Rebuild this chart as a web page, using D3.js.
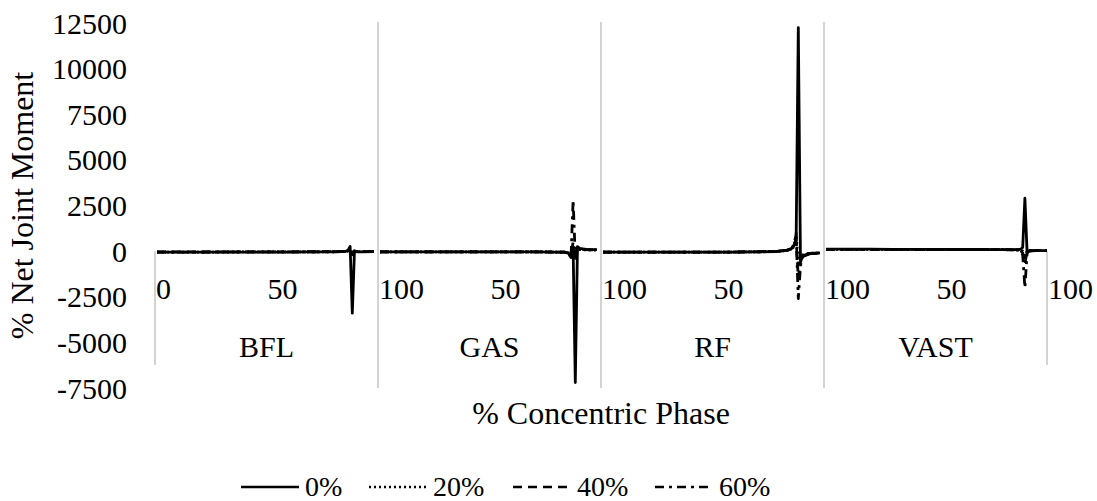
<!DOCTYPE html>
<html>
<head>
<meta charset="utf-8">
<script src="https://cdn.jsdelivr.net/npm/d3@7/dist/d3.min.js"></script>
<style>
    body { margin: 0; background: #fff; }
</style>
</head>
<body>
<svg id="chart" width="1097" height="501"></svg>
<script>
var groups = ['BFL', 'GAS', 'RF', 'VAST'];
var seriesNames = ['0%', '20%', '40%', '60%'];
var yTicks = [-7500, -5000, -2500, 0, 2500, 5000, 7500, 10000, 12500];
var xTickValues = [0, 50, 100, 150, 200, 250, 300, 350, 400];
var xTickLabels = ['0', '50', '100', '50', '100', '50', '100', '50', '100'];

// % concentric phase sampled in each muscle panel
var phase = [0, 10, 20, 30, 40, 50, 60, 70, 80, 85, 87, 88, 89, 90, 91, 92, 95, 100];

var bfl0  = [-60, -60, -55, -55, -50, -50, -50, -45, -40, -30, -10, 40, 250, -3400, 20, -40, -40, -30];
var bfl20 = [-50, -50, -50, -50, -45, -45, -45, -40, -35, -30, -20, 0, 60, -150, -20, -30, -30, -30];
var bfl40 = [-40, -40, -40, -40, -40, -40, -40, -35, -30, -25, -15, 10, 80, -100, -10, -30, -30, -20];
var bfl60 = [-50, -50, -50, -45, -45, -45, -45, -40, -35, -30, -15, 20, 120, -200, -20, -30, -25, -20];

var gas0  = [-40, -40, -40, -40, -40, -40, -40, -40, -50, -60, -120, -350, 100, -7200, 250, 150, 100, 80];
var gas20 = [-40, -40, -40, -40, -40, -40, -40, -40, -50, -60, -100, -150, 300, -300, 100, 80, 70, 60];
var gas40 = [-40, -40, -40, -40, -40, -40, -40, -40, -50, -60, -100, -200, 500, -500, 150, 100, 80, 60];
var gas60 = [-40, -40, -40, -40, -40, -40, -40, -40, -50, -60, -100, -400, 2800, -400, 200, 100, 80, 60];

var rf0  = [-60, -60, -60, -55, -55, -50, -50, -40, -20, 60, 150, 300, 600, 12250, -500, -250, -150, -100];
var rf20 = [-60, -60, -60, -55, -55, -50, -50, -40, -20, 50, 120, 250, 1000, -800, -400, -200, -120, -100];
var rf40 = [-60, -60, -60, -55, -55, -50, -50, -40, -20, 50, 120, 250, 700, -1500, -600, -250, -120, -100];
var rf60 = [-60, -60, -60, -55, -55, -50, -50, -40, -20, 50, 150, 400, 900, -2600, -800, -300, -150, -100];

var vast0  = [110, 110, 110, 100, 100, 100, 90, 90, 80, 80, 90, 100, 200, 2900, -100, 20, 30, 30];
var vast20 = [100, 100, 100, 100, 90, 90, 90, 80, 80, 70, 60, 40, 0, -400, 0, 20, 30, 30];
var vast40 = [100, 100, 100, 100, 90, 90, 90, 80, 80, 70, 60, 40, -100, -700, 0, 20, 30, 30];
var vast60 = [100, 100, 100, 100, 90, 90, 90, 80, 80, 70, 60, 50, -200, -2000, -100, 20, 30, 30];

var panelValues = {
    BFL: [bfl0, bfl20, bfl40, bfl60],
    GAS: [gas0, gas20, gas40, gas60],
    RF: [rf0, rf20, rf40, rf60],
    VAST: [vast0, vast20, vast40, vast60]
};

var dashes = ['none', '2,3', '9,6', '9,5,3,5'];

(function draw() {
    var svg = d3.select('#chart')
        .attr('font-family', "'Liberation Serif', 'Times New Roman', Times, 'DejaVu Serif', serif");
    var plotLeft = 155, plotRight = 1047, plotTop = 23, plotBottom = 388;
    var groupBottom = 365;
    var fontSize = '30px', titleSize = '32px';

    var y = d3.scaleLinear().domain([-7500, 12500]).range([plotBottom, plotTop]);
    var band = d3.scaleBand().domain(groups).range([plotLeft, plotRight]);
    var xAll = d3.scaleLinear().domain([0, 400]).range([plotLeft, plotRight]);

    // group separators
    groups.forEach(function(g, i) {
        if (i == 0) return;
        svg.append('line')
            .attr('x1', band(g)).attr('x2', band(g))
            .attr('y1', plotTop - 1).attr('y2', plotBottom)
            .style('stroke', '#c4c4c4').style('stroke-width', 1.5);
    });
    [plotLeft, plotRight].forEach(function(x) {
        svg.append('line')
            .attr('x1', x).attr('x2', x)
            .attr('y1', y(0)).attr('y2', groupBottom)
            .style('stroke', '#c4c4c4').style('stroke-width', 1.5);
    });

    // y tick labels
    svg.append('g').selectAll('text').data(yTicks).enter().append('text')
        .attr('x', 127).attr('y', function(d) { return y(d); })
        .attr('dy', '0.35em')
        .attr('text-anchor', 'end')
        .style('font-size', fontSize)
        .text(function(d) { return d; });

    // x tick labels
    svg.append('g').selectAll('text').data(xTickValues).enter().append('text')
        .attr('x', function(d) { return xAll(d) + 1; })
        .attr('y', 299)
        .style('font-size', fontSize)
        .text(function(d, i) { return xTickLabels[i]; });

    // group labels
    svg.append('g').selectAll('text').data(groups).enter().append('text')
        .attr('x', function(d) { return band(d) + band.bandwidth() / 2; })
        .attr('y', 357)
        .attr('text-anchor', 'middle')
        .style('font-size', fontSize)
        .text(function(d) { return d; });

    // lines
    groups.forEach(function(g, gi) {
        var x0 = band(g);
        var endPad = gi == groups.length - 1 ? 0 : 4;
        var x = d3.scaleLinear().domain([0, 100]).range([x0 + 2, x0 + band.bandwidth() - endPad]);
        var line = d3.line()
            .x(function(d, i) { return x(phase[i]); })
            .y(function(d) { return y(d); });

        panelValues[g].forEach(function(vals, si) {
            svg.append('path')
                .attr('d', line(vals))
                .style('fill', 'none')
                .style('stroke', '#000')
                .style('stroke-width', 2.8)
                .style('stroke-linejoin', 'round')
                .style('stroke-dasharray', dashes[si]);
        });
    });

    // axis titles
    svg.append('text')
        .attr('transform', 'translate(33,' + ((plotTop + plotBottom) / 2) + ') rotate(-90)')
        .attr('text-anchor', 'middle')
        .style('font-size', titleSize)
        .text('% Net Joint Moment');

    svg.append('text')
        .attr('x', (plotLeft + plotRight) / 2).attr('y', 424)
        .attr('text-anchor', 'middle')
        .style('font-size', titleSize)
        .text('% Concentric Phase');

    // legend
    var legendX = [241, 369, 513, 655];
    var legend = svg.append('g');
    seriesNames.forEach(function(name, i) {
        legend.append('line')
            .attr('x1', legendX[i]).attr('x2', legendX[i] + 58)
            .attr('y1', 487).attr('y2', 487)
            .style('stroke', '#000')
            .style('stroke-width', 2.6)
            .style('stroke-dasharray', dashes[i]);
        legend.append('text')
            .attr('x', legendX[i] + 64).attr('y', 496)
            .style('font-size', '28px')
            .text(name);
    });
})();
</script>
</body>
</html>
